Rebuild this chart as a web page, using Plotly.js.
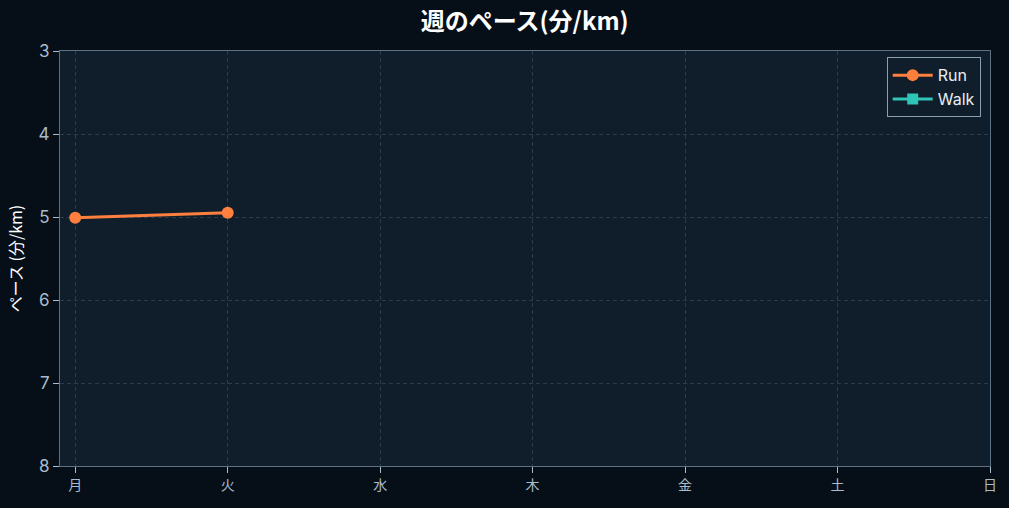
<!DOCTYPE html>
<html>
<head>
<meta charset="utf-8">
<script src="https://cdn.plot.ly/plotly-3.0.1.min.js"></script>
<style>
  html, body { margin: 0; padding: 0; background: #060f18; }
  #chart { width: 1009px; height: 508px; }
</style>
</head>
<body>
<div id="chart"></div>
<script>
var days = ['月', '火', '水', '木', '金', '土', '日'];
var runPace = [5.01, 4.95, null, null, null, null, null];
var walkPace = [null, null, null, null, null, null, null];

var font = 'Inter, "Noto Sans CJK JP", sans-serif';

var data = [{
    x: days,
    y: runPace,
    name: 'Run',
    mode: 'lines+markers',
    type: 'scatter',
    line: { color: '#ff7f3f', width: 3 },
    marker: { symbol: 'circle', size: 12, color: '#ff7f3f' }
}, {
    x: days,
    y: walkPace,
    name: 'Walk',
    mode: 'lines+markers',
    type: 'scatter',
    line: { color: '#2ec4b6', width: 3 },
    marker: { symbol: 'square', size: 11, color: '#2ec4b6' }
}];

var layout = {
    width: 1009,
    height: 508,
    paper_bgcolor: '#060f18',
    plot_bgcolor: '#0f1e2a',
    font: { family: font, color: '#a9bccc', size: 15 },
    title: {
        text: '<b>週のペース(分/km)</b>',
        font: { family: '"Noto Sans CJK JP", sans-serif', size: 24, color: '#ffffff' },
        x: 0.52,
        xanchor: 'center',
        y: 0.958,
        yanchor: 'middle'
    },
    margin: { l: 60, r: 19, t: 51, b: 42 },
    showlegend: true,
    legend: {
        x: 0.99,
        y: 0.985,
        xanchor: 'right',
        yanchor: 'top',
        bgcolor: '#0f1e2a',
        bordercolor: '#8a9fb0',
        borderwidth: 1,
        itemwidth: 40,
        font: { color: '#e8eef3', size: 16 }
    },
    xaxis: {
        type: 'category',
        range: [-0.1, 6],
        showline: true,
        mirror: true,
        linecolor: '#5d7284',
        linewidth: 1,
        ticks: 'outside',
        ticklen: 6,
        tickcolor: '#a9bccc',
        showgrid: true,
        gridcolor: '#2a3b4a',
        griddash: '4px,3px',
        zeroline: false,
        tickfont: { family: '"Noto Sans CJK JP", sans-serif', size: 14, color: '#a9bccc' }
    },
    yaxis: {
        range: [8, 3],
        dtick: 1,
        showline: true,
        mirror: true,
        linecolor: '#5d7284',
        linewidth: 1,
        ticks: 'outside',
        ticklen: 6,
        tickcolor: '#a9bccc',
        showgrid: true,
        gridcolor: '#2a3b4a',
        griddash: '4px,3px',
        zeroline: false,
        tickfont: { size: 17, color: '#a9bccc' },
        title: {
            text: 'ペース (分/km)',
            font: { family: '"Noto Sans CJK JP", sans-serif', size: 16, color: '#ffffff' },
            standoff: 12
        }
    }
};

Plotly.newPlot('chart', data, layout, { displayModeBar: false });
</script>
</body>
</html>
